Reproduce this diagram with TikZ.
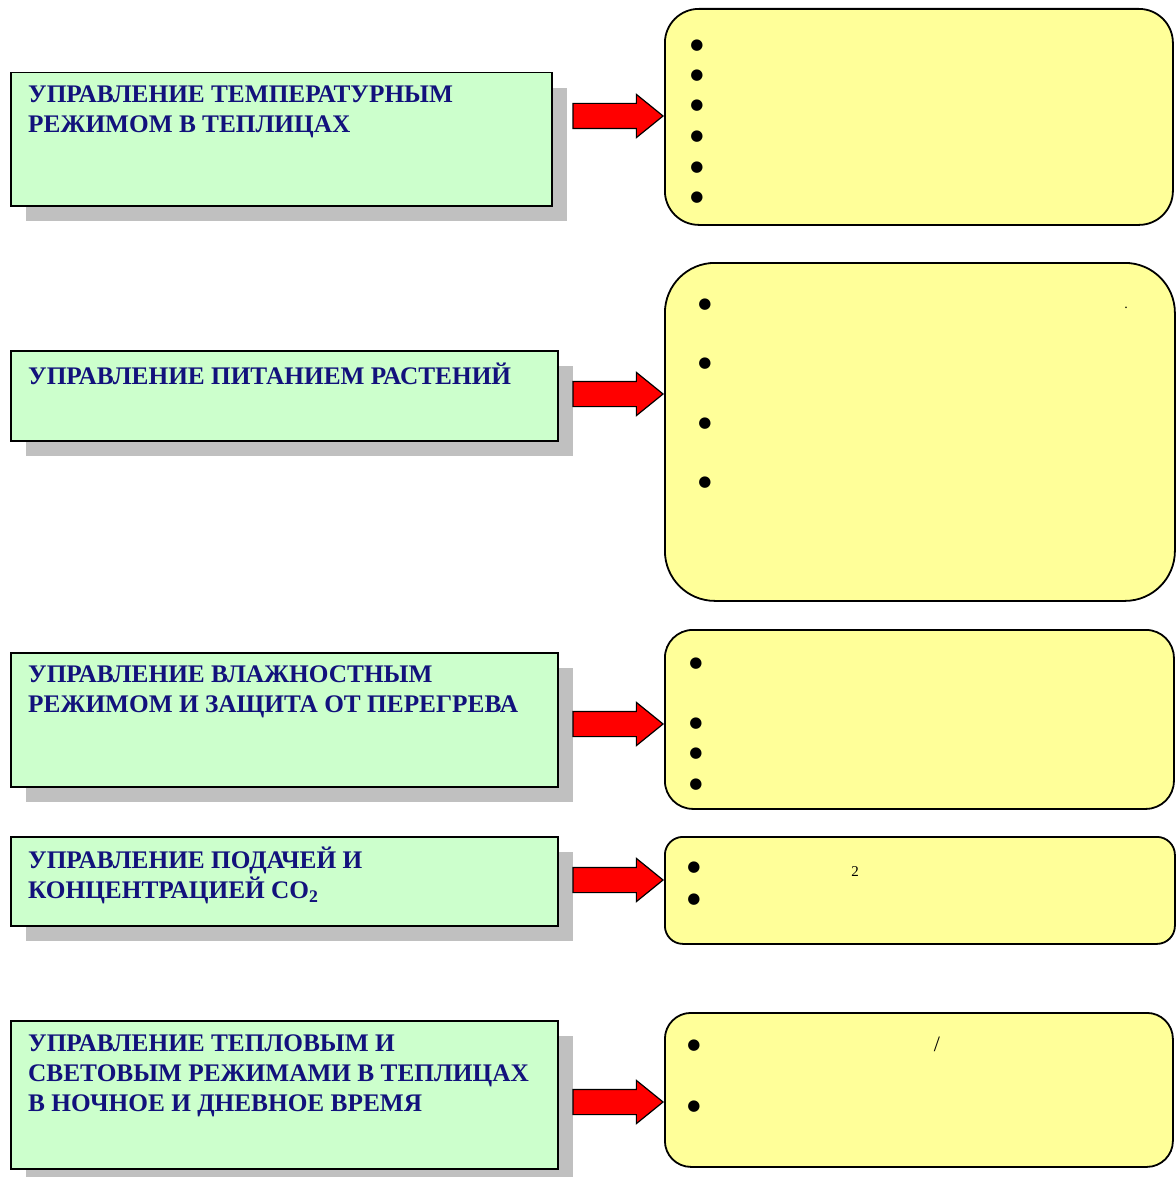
\documentclass[tikz,border=0pt]{standalone}
\usepackage{fontspec}
\setmainfont{Liberation Serif}
\newfontfamily\dotfont{DejaVu Sans}
\usetikzlibrary{positioning, shapes.arrows, shadows}

\definecolor{box_green}{RGB}{204,255,204}
\definecolor{box_yellow}{RGB}{255,255,153}
\definecolor{shadow_gray}{RGB}{192,192,192}
\definecolor{title_blue}{RGB}{18,18,124}

\tikzstyle{green_box} = [
    rectangle,
    anchor=north west,
    draw=black,
    line width=1.5pt,
    fill=box_green,
    inner sep=0pt,
    drop shadow={shadow xshift=15pt, shadow yshift=-15pt, fill=shadow_gray, opacity=1}
]
\tikzstyle{yellow_box} = [
    rectangle,
    anchor=north west,
    draw=black,
    line width=1.8pt,
    fill=box_yellow,
    inner sep=0pt
]
\tikzstyle{title_text} = [
    title_blue,
    font=\bfseries\fontsize{25.3}{30}\selectfont,
    align=left,
    inner sep=0pt,
    execute at begin node={\rule{0pt}{23pt}}
]
\tikzstyle{red_arrow} = [
    single arrow,
    draw=black,
    fill=red,
    line width=1.2pt,
    inner sep=0pt,
    inner ysep=12pt,
    minimum height=90pt,
    single arrow head extend=9pt,
    single arrow tip angle=78,
    anchor=tip
]
\tikzstyle{dot_item} = [
    inner sep=0pt,
    yshift=-2pt,
    font=\dotfont\fontsize{15}{15}\selectfont
]

\begin{document}
\begin{tikzpicture}[x=1pt, y=-1pt]
\useasboundingbox (0,0) rectangle (1175,1177);

% left column
\node [green_box, minimum width=541, minimum height=133] (g1) at (10,72) {};
\node [green_box, minimum width=547, minimum height=90] (g2) at (10,350) {};
\node [green_box, minimum width=547, minimum height=134] (g3) at (10,652) {};
\node [green_box, minimum width=547, minimum height=89] (g4) at (10,836) {};
\node [green_box, minimum width=547, minimum height=148] (g5) at (10,1020) {};

\node [title_text, below right=14pt and 18pt of g1.north west] (t1)
    {УПРАВЛЕНИЕ ТЕМПЕРАТУРНЫМ\\РЕЖИМОМ В ТЕПЛИЦАХ};
\node [title_text, below right=11pt and 18pt of g2.north west] (t2)
    {УПРАВЛЕНИЕ ПИТАНИЕМ РАСТЕНИЙ};
\node [title_text, below right=14pt and 18pt of g3.north west] (t3)
    {УПРАВЛЕНИЕ ВЛАЖНОСТНЫМ\\РЕЖИМОМ И ЗАЩИТА ОТ ПЕРЕГРЕВА};
\node [title_text, below right=11pt and 18pt of g4.north west] (t4)
    {УПРАВЛЕНИЕ ПОДАЧЕЙ И\\КОНЦЕНТРАЦИЕЙ CO\textsubscript{2}};
\node [title_text, below right=15pt and 18pt of g5.north west] (t5)
    {УПРАВЛЕНИЕ ТЕПЛОВЫМ И\\СВЕТОВЫМ РЕЖИМАМИ В ТЕПЛИЦАХ\\В НОЧНОЕ И ДНЕВНОЕ ВРЕМЯ};

% right column
\node [yellow_box, rounded corners=34pt, minimum width=508, minimum height=216] (y1) at (664,8) {};
\node [yellow_box, rounded corners=50pt, minimum width=510, minimum height=338] (y2) at (664,262) {};
\node [yellow_box, rounded corners=28pt, minimum width=509, minimum height=179] (y3) at (664,629) {};
\node [yellow_box, rounded corners=18pt, minimum width=510, minimum height=107] (y4) at (664,836) {};
\node [yellow_box, rounded corners=26pt, minimum width=508, minimum height=154] (y5) at (664,1012) {};

% arrows
\node [red_arrow] (a1) at (y1.west |- 0,116) {};
\node [red_arrow] (a2) at (y2.west |- 0,394) {};
\node [red_arrow] (a3) at (y3.west |- 0,724) {};
\node [red_arrow] (a4) at (y4.west |- 0,880) {};
\node [red_arrow] (a5) at (y5.west |- 0,1102) {};

% bullets
\foreach \y [count=\i] in {44,74,104,135,166,196}
    \node [dot_item] (d1\i) at (697,\y) {●};
\foreach \y [count=\i] in {303,362,422,481}
    \node [dot_item] (d2\i) at (705,\y) {●};
\foreach \y [count=\i] in {662,722,752,783}
    \node [dot_item] (d3\i) at (696,\y) {●};
\foreach \y [count=\i] in {866,898}
    \node [dot_item] (d4\i) at (694,\y) {●};
\foreach \y [count=\i] in {1044,1105}
    \node [dot_item] (d5\i) at (694,\y) {●};

\node [inner sep=0pt, font=\fontsize{14}{14}\selectfont] (p2) at (1126,308) {.};
\node [inner sep=0pt, font=\fontsize{15}{15}\selectfont] (s4) at (855,872) {2};
\node [inner sep=0pt, font=\fontsize{22}{22}\selectfont] (s5) at (937,1044) {/};
\end{tikzpicture}
\end{document}
